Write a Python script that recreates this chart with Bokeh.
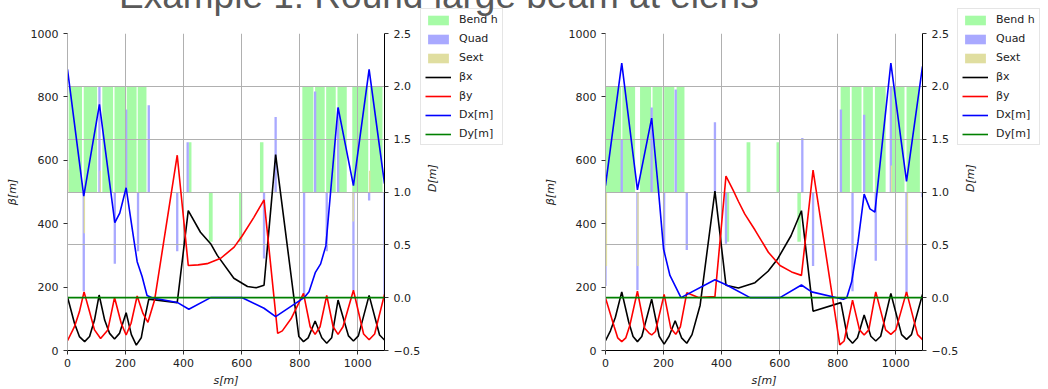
import math
from bokeh.plotting import figure
from bokeh.models import Range1d, LinearAxis, FixedTicker, Grid, Legend, LegendItem, Div
from bokeh.layouts import row, column
from bokeh.embed import file_html
from bokeh.resources import INLINE

TITLE = "Example 1: Round large beam at elens"
S_MAX = 1092
S_TICKS = [0, 200, 400, 600, 800, 1000]
BETA_TICKS = [0, 200, 400, 600, 800, 1000]
D_TICKS = [-0.5, 0.0, 0.5, 1.0, 1.5, 2.0, 2.5]
D_LABELS = ["\u22120.5", "0.0", "0.5", "1.0", "1.5", "2.0", "2.5"]
LEGEND_LABELS = ["Bend h", "Quad", "Sext", "\u03b2x", "\u03b2y", "Dx[m]", "Dy[m]"]

# ---------------- left panel ----------------
BX_A_S = [0, 24, 41, 59, 76, 93, 109, 128, 145, 162, 179, 202, 220, 237, 254, 268, 280, 378, 416, 458, 493, 516, 573, 620, 650, 677, 717, 797, 813, 829, 853, 876, 893, 910, 932, 968, 985, 1002, 1039, 1075, 1092]
BX_A = [169, 86, 44, 28, 44, 96, 175, 96, 54, 36, 54, 119, 50, 17, 40, 110, 162, 151, 441, 373, 337, 300, 228, 202, 198, 206, 618, 44, 28, 40, 93, 40, 23, 40, 159, 46, 30, 46, 174, 49, 33]
BY_A_S = [0, 24, 41, 57, 76, 93, 114, 139, 162, 185, 202, 219, 240, 260, 277, 300, 378, 416, 450, 481, 528, 574, 602, 642, 677, 724, 740, 770, 813, 836, 853, 870, 893, 915, 932, 949, 985, 1020, 1039, 1058, 1092]
BY_A = [31, 75, 122, 185, 122, 65, 38, 65, 167, 86, 49, 86, 172, 117, 89, 159, 616, 268, 270, 274, 291, 326, 362, 420, 475, 54, 62, 100, 180, 75, 51, 75, 174, 75, 51, 75, 190, 52, 34, 52, 177]
DX_A_S = [0, 56, 110, 163, 180, 202, 223, 240, 257, 274, 291, 378, 418, 493, 602, 677, 717, 815, 832, 854, 872, 890, 932, 985, 1039, 1092]
DX_A = [2.16, 0.96, 1.83, 0.71, 0.80, 1.04, 0.65, 0.34, 0.20, 0.02, 0.0, -0.045, -0.11, 0.0, 0.0, -0.10, -0.18, 0.0, 0.055, 0.24, 0.32, 0.49, 1.80, 1.06, 2.16, 1.08]
BEND_A_S0 = [4, 56, 120, 162, 204, 242, 418, 487, 591, 663, 809, 853, 891, 930, 981, 1042]
BEND_A_S1 = [50, 102, 157, 199, 238, 272, 427, 500, 602, 675, 847, 886, 924, 962, 1036, 1085]
BEND_A_TOP = [2.0, 2.0, 2.0, 2.0, 2.0, 2.0, 1.47, 0.53, 0.53, 1.47, 2.0, 2.0, 2.0, 2.0, 2.0, 2.0]
QUAD_A_S = [56, 110, 163, 202, 243, 280, 378, 414, 677, 717, 815, 853, 893, 932, 985, 1039, 1092]
QUAD_A_TOP = [0.06, 2.0, 0.32, 1.78, 0.44, 1.82, 0.44, 1.47, 0.37, 1.71, 0.02, 1.95, 0.44, 1.80, 0.07, 0.92, 0.02]
SEXT_A_S = [1, 58, 113, 984, 1041]
SEXT_A_TOP = [1.21, 0.61, 1.20, 0.72, 1.20]

# ---------------- right panel ----------------
BX_B_S = [0, 17, 34, 56, 80, 95, 110, 125, 159, 185, 202, 219, 240, 262, 280, 298, 326, 377, 415, 458, 515, 560, 593, 639, 675, 715, 811, 834, 851, 868, 891, 914, 931, 948, 983, 1020, 1037, 1054, 1092]
BX_B = [31, 62, 105, 185, 90, 44, 28, 44, 162, 45, 20, 45, 94, 40, 23, 50, 143, 503, 206, 197, 214, 250, 289, 362, 441, 124, 151, 40, 23, 40, 112, 45, 30, 45, 180, 50, 35, 50, 177]
BY_B_S = [0, 30, 42, 56, 70, 84, 110, 135, 150, 159, 172, 202, 225, 242, 258, 280, 320, 377, 415, 440, 458, 480, 515, 561, 601, 641, 675, 715, 807, 822, 851, 875, 891, 907, 931, 965, 983, 1000, 1037, 1075, 1092]
BY_B = [166, 75, 40, 28, 40, 80, 187, 70, 55, 49, 60, 177, 70, 51, 75, 182, 167, 170, 550, 505, 470, 430, 380, 310, 268, 248, 237, 569, 18, 30, 159, 65, 49, 65, 185, 65, 51, 65, 185, 50, 34]
DX_B_S = [0, 56, 110, 159, 182, 200, 222, 260, 377, 417, 498, 601, 675, 710, 819, 831, 848, 870, 891, 911, 928, 983, 1037, 1092]
DX_B = [1.06, 2.22, 1.02, 1.70, 1.03, 0.46, 0.21, 0.0, 0.17, 0.12, 0.0, 0.0, 0.12, 0.055, -0.015, 0.0, 0.15, 0.53, 0.98, 0.84, 0.81, 2.22, 1.10, 2.19]
BEND_B_S0 = [1, 58, 119, 162, 202, 245, 415, 486, 589, 661, 810, 848, 888, 928, 984, 1037]
BEND_B_S1 = [54, 102, 157, 196, 237, 272, 426, 499, 601, 673, 842, 882, 921, 965, 1030, 1083]
BEND_B_TOP = [2.0, 2.0, 2.0, 2.0, 2.0, 2.0, 0.53, 1.47, 1.47, 0.53, 2.0, 2.0, 2.0, 2.0, 2.0, 2.0]
QUAD_B_S = [0, 56, 110, 159, 202, 242, 280, 377, 415, 678, 715, 811, 851, 891, 931, 983, 1037, 1092]
QUAD_B_TOP = [0.11, 1.50, 0.07, 1.80, 0.42, 1.97, 0.45, 1.66, 0.51, 1.51, 0.30, 1.78, 0.06, 1.73, 0.35, 2.0, 0.02, 0.95]
SEXT_B_S = [3, 112, 985, 1040]
SEXT_B_TOP = [0.30, 0.30, 1.25, 0.51]

DY_S = [0, 1092]
DY = [0.0, 0.0]

ELEMENT_BASE = 1.0
FONT = "DejaVu Sans"
GRID_COLOR = "#b0b0b0"
TEXT_COLOR = "#222222"
BEND_COLOR = "#a6fba6"
QUAD_COLOR = "#a9a9ff"
SEXT_COLOR = "#e0dea0"
LINE_COLORS = ["black", "red", "blue", "green"]
LW = 1.6


def draw_elements(p, b0, b1, btop, q_s, q_top, x_s, x_top, **kw):
    r1 = p.quad(left=b0, right=b1, bottom=[ELEMENT_BASE] * len(b0), top=btop,
                fill_color=BEND_COLOR, line_color=None, level="image", **kw)
    r2 = p.vbar(x=q_s, width=8, bottom=[ELEMENT_BASE] * len(q_s), top=q_top,
                fill_color=QUAD_COLOR, line_color=None, level="image", **kw)
    r3 = p.vbar(x=x_s, width=5, bottom=[ELEMENT_BASE] * len(x_s), top=x_top,
                fill_color=SEXT_COLOR, line_color=None, level="image", **kw)
    return [r1, r2, r3]


def draw_lines(p, bx_s, bx, by_s, by, dx_s, dx, d_name=None):
    kw = {"y_range_name": d_name} if d_name else {}
    return [
        p.line(bx_s, bx, line_color=LINE_COLORS[0], line_width=LW),
        p.line(by_s, by, line_color=LINE_COLORS[1], line_width=LW),
        p.line(dx_s, dx, line_color=LINE_COLORS[2], line_width=LW, **kw),
        p.line(DY_S, DY, line_color=LINE_COLORS[3], line_width=LW, **kw),
    ]


def make_panel(data, border_left, border_right):
    bx_s, bx, by_s, by, dx_s, dx, b0, b1, btop, q_s, q_top, x_s, x_top = data
    p = figure(width=524, height=389, x_range=Range1d(0, S_MAX), y_range=Range1d(0, 1000),
               output_backend="svg", toolbar_location=None,
               min_border_left=border_left, min_border_right=border_right,
               min_border_top=33, min_border_bottom=37,
               border_fill_color=None, outline_line_color=None,
               background_fill_color="white")
    p.extra_y_ranges = {"D": Range1d(-0.5, 2.5)}

    draw_elements(p, b0, b1, btop, q_s, q_top, x_s, x_top, y_range_name="D")
    draw_lines(p, bx_s, bx, by_s, by, dx_s, dx, d_name="D")

    xa = p.xaxis[0]
    xa.ticker = FixedTicker(ticks=S_TICKS)
    xa.axis_label = "s[m]"
    ya = p.yaxis[0]
    ya.ticker = FixedTicker(ticks=BETA_TICKS)
    ya.axis_label = "\u03b2[m]"
    da = LinearAxis(y_range_name="D", ticker=FixedTicker(ticks=D_TICKS), axis_label="D[m]")
    da.major_label_overrides = {t: lab for t, lab in zip(D_TICKS, D_LABELS)}
    da.axis_label_orientation = math.pi / 2
    p.add_layout(da, "right")

    for ax in (xa, ya, da):
        ax.minor_tick_line_color = None
        ax.major_tick_in = 0
        ax.major_tick_out = 4
        ax.major_label_text_font = FONT
        ax.major_label_text_font_size = "11px"
        ax.major_label_text_color = TEXT_COLOR
        ax.axis_label_text_font = FONT
        ax.axis_label_text_font_size = "11px"
        ax.axis_label_text_font_style = "italic"
        ax.axis_label_text_color = TEXT_COLOR
        ax.major_tick_line_color = "#333333"
        ax.axis_line_color = "black"
    ya.axis_line_color = GRID_COLOR
    ya.major_label_standoff = 5
    ya.axis_label_standoff = 9
    da.major_label_standoff = 5
    da.axis_label_standoff = 9
    xa.major_label_standoff = 4
    xa.axis_label_standoff = 4

    p.xgrid.grid_line_color = GRID_COLOR
    p.xgrid.grid_line_width = 1
    p.ygrid.visible = False
    p.add_layout(Grid(dimension=1, ticker=da.ticker, y_range_name="D",
                      grid_line_color=GRID_COLOR, grid_line_width=1))
    return p


def make_legend_fig(data):
    # transparent overlay figure that only carries the legend box
    bx_s, bx, by_s, by, dx_s, dx, b0, b1, btop, q_s, q_top, x_s, x_top = data
    lf = figure(width=100, height=389, title=None,
                x_range=Range1d(-20, -10), y_range=Range1d(-20, -10),
                output_backend="svg", toolbar_location=None,
                x_axis_location=None, y_axis_location=None,
                min_border_left=0, min_border_right=0, min_border_top=0, min_border_bottom=0,
                border_fill_color=None, background_fill_color=None, outline_line_color=None)
    lf.xgrid.visible = False
    lf.ygrid.visible = False
    rs = draw_elements(lf, b0, b1, btop, q_s, q_top, x_s, x_top) + \
        draw_lines(lf, bx_s, bx, by_s, by, dx_s, dx)
    legend = Legend(items=[LegendItem(label=lab, renderers=[r]) for lab, r in zip(LEGEND_LABELS, rs)],
                    location="top_left")
    legend.label_text_font = FONT
    legend.label_text_font_size = "11px"
    legend.label_text_color = TEXT_COLOR
    legend.glyph_width = 26
    legend.glyph_height = 12
    legend.label_height = 12
    legend.label_standoff = 8
    legend.spacing = 6
    legend.padding = 4
    legend.margin = 8
    legend.border_line_color = "#cccccc"
    legend.background_fill_alpha = 0.9
    lf.add_layout(legend)
    return lf


DATA_A = (BX_A_S, BX_A, BY_A_S, BY_A, DX_A_S, DX_A, BEND_A_S0, BEND_A_S1, BEND_A_TOP,
          QUAD_A_S, QUAD_A_TOP, SEXT_A_S, SEXT_A_TOP)
DATA_B = (BX_B_S, BX_B, BY_B_S, BY_B, DX_B_S, DX_B, BEND_B_S0, BEND_B_S1, BEND_B_TOP,
          QUAD_B_S, QUAD_B_TOP, SEXT_B_S, SEXT_B_TOP)

p1 = make_panel(DATA_A, 67, 140)
p2 = make_panel(DATA_B, 81, 126)
lf1 = make_legend_fig(DATA_A)
lf1.margin = (-33, 12, 0, -112)
lf2 = make_legend_fig(DATA_B)
lf2.margin = (-33, 0, 0, -99)

title_div = Div(
    text=('<div style="font-family:\'Liberation Sans\',Arial,sans-serif;font-size:37px;'
          'line-height:37px;color:#595959;white-space:nowrap;">' + TITLE + '</div>'),
    width=700, height=37, margin=(-412, 0, 0, 119))

layout = column(row(p1, lf1, p2, lf2), title_div)
open("out.html", "w").write(file_html(layout, INLINE))
